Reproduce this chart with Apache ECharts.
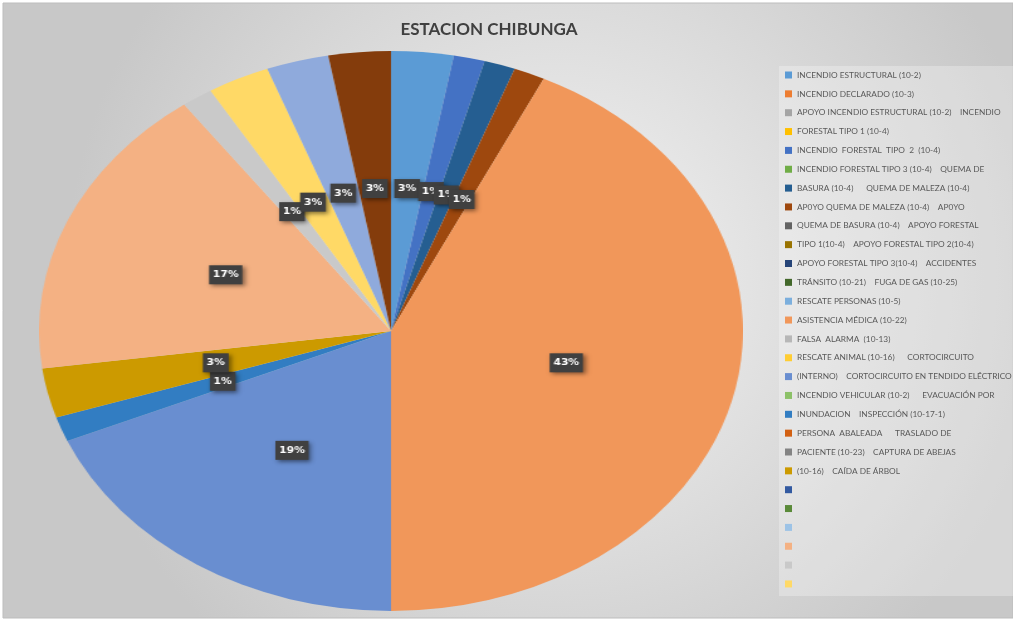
<!DOCTYPE html>
<html>
<head>
<meta charset="utf-8">
<title>ESTACION CHIBUNGA</title>
<script src="https://cdn.jsdelivr.net/npm/echarts@6/dist/echarts.min.js"></script>
<style>
  html, body { margin: 0; padding: 0; background: #fff; }
  #main { position: absolute; left: 0; top: 0; width: 1013px; height: 622px; }
  /* excel draws the pie as an ellipse, so the pie gets its own stretched box */
  #pie { position: absolute; left: 111px; top: 51px; width: 560px; height: 560px;
         transform: scaleX(1.2571); transform-origin: 280px 280px; }
</style>
</head>
<body>
<div id="main"></div>
<div id="pie"></div>
<script>
// legend text exactly as excel wrapped it; the last ones have no name
const categories = [
  'INCENDIO ESTRUCTURAL (10-2)',
  'INCENDIO DECLARADO (10-3)',
  'APOYO INCENDIO ESTRUCTURAL (10-2)    INCENDIO',
  'FORESTAL TIPO 1 (10-4)',
  'INCENDIO  FORESTAL  TIPO  2  (10-4)',
  'INCENDIO FORESTAL TIPO 3 (10-4)    QUEMA DE',
  'BASURA (10-4)      QUEMA DE MALEZA (10-4)',
  'AP0YO QUEMA DE MALEZA (10-4)    AP0YO',
  'QUEMA DE BASURA (10-4)    APOYO FORESTAL',
  'TIPO 1(10-4)    APOYO FORESTAL TIPO 2(10-4)',
  'APOYO FORESTAL TIPO 3(10-4)    ACCIDENTES',
  'TRÁNSITO (10-21)    FUGA DE GAS (10-25)',
  'RESCATE PERSONAS (10-5)',
  'ASISTENCIA MÉDICA (10-22)',
  'FALSA  ALARMA  (10-13)',
  'RESCATE ANIMAL (10-16)      CORTOCIRCUITO',
  '(INTERNO)    CORTOCIRCUITO EN TENDIDO ELÉCTRICO',
  'INCENDIO VEHICULAR (10-2)      EVACUACIÓN POR',
  'INUNDACION    INSPECCIÓN (10-17-1)',
  'PERSONA  ABALEADA      TRASLADO DE',
  'PACIENTE (10-23)    CAPTURA DE ABEJAS',
  '(10-16)    CAÍDA DE ÁRBOL',
  ' ',
  '  ',
  '   ',
  '    ',
  '     ',
  '      ',
  '       ',
  '        ',
  '         ',
  '          '
];
const values = [2, 0, 0, 0, 1, 0, 1, 1, 0, 0, 0, 0, 0, 30, 0, 0,
                13, 0, 1, 0, 0, 2, 0, 0, 0, 12, 1, 2, 2, 0, 0, 2];
const legendCount = 28; // excel cut the legend off here

const palette = [
  '#5B9BD5', '#ED7D31', '#A5A5A5', '#FFC000', '#4472C4', '#70AD47',
  '#255E91', '#9E480E', '#636363', '#997300', '#264478', '#43682B',
  '#7CAFDD', '#F1975A', '#B7B7B7', '#FFCD33', '#698ED0', '#8CC168',
  '#327DC2', '#D26012', '#848484', '#CC9A00', '#335AA1', '#5A8A39',
  '#9DC3E6', '#F4B183', '#C9C9C9', '#FFD966', '#8FAADC', '#A9D18E',
  '#1F4E79', '#843C0C'
];

const legendData = categories.map((name, i) => ({ name: name, value: values[i] }));
const pieData = categories.map((name, i) => ({
  name: name,
  value: values[i],
  label: { show: values[i] > 0 }
}));

// background, title and legend
const main = echarts.init(document.getElementById('main'));
main.setOption({
  color: palette,
  animation: false,
  graphic: [
    {
      type: 'rect', z: -10,
      shape: { x: 3, y: 3, width: 1010, height: 615 },
      style: {
        fill: new echarts.graphic.RadialGradient(0.55, 0.45, 0.8, [
          { offset: 0, color: '#f4f4f4' },
          { offset: 1, color: '#c8c8c8' }
        ]),
        stroke: '#bdbdbd', lineWidth: 1
      }
    },
    {
      type: 'rect', z: -9,
      shape: { x: 779, y: 66, width: 234, height: 530 },
      style: { fill: 'rgba(255,255,255,0.28)' }
    }
  ],
  title: {
    text: 'ESTACION CHIBUNGA',
    left: 484,
    top: 16,
    textAlign: 'center',
    textStyle: { fontFamily: 'Lato', fontWeight: 'bold', fontSize: 17, color: '#404040' }
  },
  legend: {
    data: categories.slice(0, legendCount),
    orient: 'vertical',
    left: 785,
    top: 70,
    padding: 0,
    icon: 'rect',
    itemWidth: 7,
    itemHeight: 7,
    itemGap: 8.85,
    selectedMode: false,
    textStyle: {
      fontFamily: 'Lato, sans-serif',
      fontSize: 8.3,
      lineHeight: 10,
      color: '#595959'
    }
  },
  series: [{
    // only feeds the legend; the visible pie is in #pie
    type: 'pie',
    radius: 0,
    silent: true,
    label: { show: false },
    labelLine: { show: false },
    data: legendData
  }]
});

// the pie itself
const pie = echarts.init(document.getElementById('pie'));
pie.setOption({
  color: palette,
  animation: false,
  series: [{
    type: 'pie',
    center: ['50%', '50%'],
    radius: 280,
    startAngle: 90,
    clockwise: true,
    silent: true,
    avoidLabelOverlap: false,
    labelLayout: { hideOverlap: false },
    itemStyle: { borderWidth: 0 },
    label: {
      position: 'inside',
      formatter: p => Math.round(p.percent) + '%',
      color: '#ffffff',
      fontFamily: "'DejaVu Sans Condensed', sans-serif",
      fontWeight: 'bold',
      fontSize: 9.5,
      lineHeight: 11,
      backgroundColor: '#404040',
      padding: [4, 3, 4, 3],
      shadowBlur: 4,
      shadowColor: 'rgba(0,0,0,0.45)',
      shadowOffsetX: 2,
      shadowOffsetY: 2
    },
    labelLine: { show: false },
    data: pieData
  }]
});
</script>
</body>
</html>
